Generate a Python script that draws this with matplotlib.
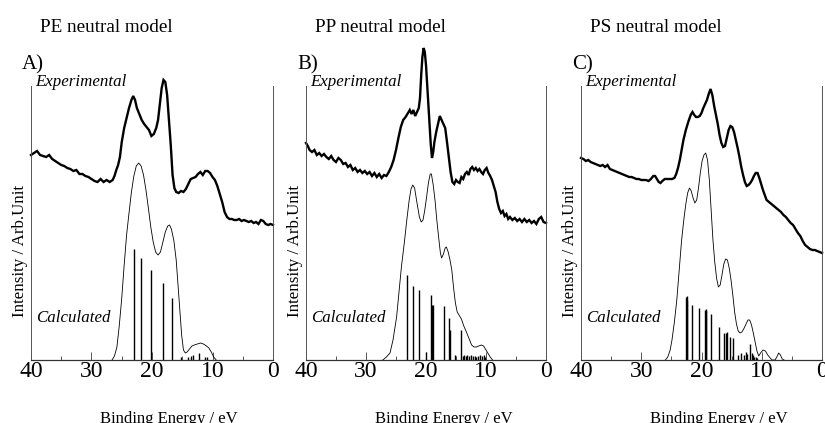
import matplotlib
matplotlib.use("Agg")
import matplotlib.pyplot as plt
from matplotlib.ticker import MultipleLocator

plt.rcParams['font.family'] = ['Liberation Serif', 'DejaVu Serif']

# ---- data (binding energy in eV, intensity in arb. units) ----
# Panel A: PE
pe_exp_x = [40.0, 39.5, 39.0, 38.5, 38.0, 37.5, 37.0, 36.5, 36.0, 35.5, 35.0, 34.5, 34.0, 33.5, 33.0,
            32.5, 32.0, 31.5, 31.0, 30.5, 30.0, 29.5, 29.0, 28.5, 28.0, 27.5, 27.0, 26.5, 26.2, 25.9,
            25.6, 25.3, 25.0, 24.6, 24.2, 23.8, 23.4, 23.1, 22.8, 22.5, 22.1, 21.7, 21.3, 20.9, 20.5,
            20.1, 19.7, 19.3, 19.0, 18.7, 18.4, 18.1, 17.8, 17.5, 17.2, 16.9, 16.6, 16.3, 16.0, 15.6,
            15.2, 14.8, 14.4, 14.0, 13.6, 13.2, 12.8, 12.4, 12.0, 11.6, 11.2, 10.8, 10.4, 10.0, 9.6,
            9.2, 8.8, 8.4, 8.0, 7.6, 7.2, 6.8, 6.4, 6.0, 5.6, 5.2, 4.8, 4.4, 4.0, 3.6, 3.2, 2.8, 2.4,
            2.0, 1.6, 1.2, 0.8, 0.4, 0.0]
pe_exp_y = [205, 207, 209, 205, 204, 203, 205, 201, 199, 197, 195, 194, 192, 191, 189,
            190, 186, 186, 184, 183, 181, 179, 178, 181, 178, 180, 178, 180, 184, 190,
            195, 203, 218, 232, 242, 252, 260, 264, 260, 252, 246, 240, 236, 233, 230,
            224, 226, 232, 240, 256, 272, 280, 278, 265, 240, 215, 185, 172, 168, 167,
            169, 168, 171, 176, 181, 182, 183, 186, 188, 185, 189, 189, 187, 183, 180,
            174, 166, 158, 148, 143, 141, 141, 140, 140, 141, 139, 140, 139, 138, 139, 137, 138, 136,
            140, 139, 136, 135, 136, 135]
pe_calc_x = [26.6, 26.2, 25.8, 25.4, 25.0, 24.6, 24.2, 23.8, 23.4, 23.0, 22.6, 22.2, 21.8, 21.4, 21.0,
             20.6, 20.2, 19.8, 19.4, 19.0, 18.6, 18.2, 17.8, 17.4, 17.1, 16.8, 16.4, 16.0, 15.7, 15.4,
             15.1, 14.8, 14.5, 14.2, 13.8, 13.4, 13.0, 12.5, 12.0, 11.5, 11.0, 10.6, 10.2, 9.8, 9.4]
pe_calc_y = [0, 4, 13, 35, 62, 95, 125, 147, 168, 184, 194, 197, 194, 185, 170,
             152, 133, 118, 108, 105, 108, 118, 128, 134, 135, 131, 120, 100, 75, 50,
             25, 10, 7, 8, 11, 14, 15, 16, 17, 16, 14, 12, 8, 3, 0]
pe_stick_x = [23.0, 21.9, 20.2, 18.2, 16.7, 15.2, 14.0, 13.6, 13.3, 12.3, 11.2, 10.9]
pe_stick_y = [111, 102, 90, 77, 62, 3, 3, 4, 5, 7, 3, 3]

# Panel B: PP
pp_exp_x = [40.0, 39.7, 39.4, 39.0, 38.6, 38.2, 37.8, 37.4, 37.0, 36.6, 36.2, 35.8, 35.4, 35.0, 34.6,
            34.2, 33.8, 33.4, 33.0, 32.6, 32.2, 31.8, 31.4, 31.0, 30.6, 30.2, 29.8, 29.4, 29.0, 28.6,
            28.2, 27.8, 27.4, 27.0, 26.6, 26.2, 25.8, 25.4, 25.0, 24.6, 24.2, 23.8, 23.4, 23.0, 22.7,
            22.4, 22.1, 21.8, 21.5, 21.2, 21.0, 20.8, 20.6, 20.4, 20.2, 20.0, 19.8, 19.6, 19.4, 19.2,
            19.0, 18.8, 18.6, 18.3, 18.0, 17.7, 17.4, 17.1, 16.8, 16.5, 16.2, 15.9, 15.6, 15.3, 15.0,
            14.7, 14.4, 14.1, 13.8, 13.5, 13.2, 12.9, 12.6, 12.3, 12.0, 11.7, 11.4, 11.1, 10.8, 10.5,
            10.2, 9.9, 9.6, 9.3, 9.0, 8.7, 8.4, 8.1, 7.8, 7.5, 7.2, 6.9, 6.6, 6.3, 6.0, 5.6, 5.2, 4.8,
            4.4, 4.0, 3.6, 3.2, 2.8, 2.4, 2.0, 1.6, 1.2, 0.8, 0.4, 0.0]
pp_exp_y = [217, 214, 210, 208, 210, 205, 207, 204, 206, 203, 201, 204, 200, 198, 202,
            200, 196, 197, 193, 195, 190, 192, 188, 190, 187, 189, 186, 188, 184, 187,
            183, 186, 182, 185, 184, 188, 193, 200, 210, 222, 233, 240, 243, 247, 250,
            246, 250, 244, 248, 252, 262, 285, 303, 312, 308, 295, 275, 255, 235, 215,
            202, 208, 218, 228, 236, 244, 240, 236, 232, 218, 203, 188, 178, 176, 180,
            178, 177, 183, 181, 186, 188, 185, 191, 193, 190, 192, 189, 191, 188, 186,
            190, 192, 187, 184, 180, 174, 168, 158, 151, 147, 149, 144, 146, 141, 143, 140, 142, 139,
            141, 138, 141, 138, 140, 137, 139, 136, 141, 143, 138, 137]
pp_calc_x = [27.2, 26.6, 26.0, 25.5, 24.9, 24.5, 24.1, 23.6, 23.2, 22.8, 22.5, 22.2, 21.9, 21.5, 21.1,
             20.8, 20.5, 20.2, 19.9, 19.6, 19.3, 19.1, 18.8, 18.5, 18.2, 17.9, 17.6, 17.4, 17.1, 16.8,
             16.6, 16.3, 16.0, 15.7, 15.4, 15.1, 14.8, 14.4, 14.1, 13.7, 13.2, 12.8, 12.4, 12.0, 11.6,
             11.2, 10.8, 10.4, 10.0, 9.6, 9.3, 8.9]
pp_calc_y = [0, 3, 7, 20, 43, 68, 93, 118, 140, 160, 171, 175, 172, 157, 143,
             138, 140, 150, 163, 177, 186, 186, 175, 160, 140, 123, 107, 102, 106, 112,
             113, 108, 100, 90, 72, 57, 48, 44, 41, 34, 27, 21, 15, 13, 13,
             14, 15, 14, 10, 6, 3, 0]
pp_stick_x = [23.2, 22.2, 21.2, 20.0, 19.2, 19.0, 18.9, 17.0, 16.2, 16.0, 15.2, 14.2,
              13.8, 13.6, 13.4, 13.1, 12.8, 12.5, 12.2, 11.9, 11.6, 11.3, 11.0, 10.7, 10.4, 10.1]
pp_stick_y = [85, 74, 70, 8, 65, 55, 55, 54, 42, 30, 5, 30,
              4, 5, 4, 5, 4, 5, 4, 4, 3, 4, 5, 4, 5, 3]

# Panel C: PS
ps_exp_x = [40.0, 39.6, 39.2, 38.8, 38.4, 38.0, 37.6, 37.2, 36.8, 36.4, 36.0, 35.6, 35.2, 34.8, 34.4,
            34.0, 33.6, 33.2, 32.8, 32.4, 32.0, 31.6, 31.2, 30.8, 30.4, 30.0, 29.6, 29.2, 28.8, 28.4,
            28.0, 27.7, 27.4, 27.1, 26.8, 26.5, 26.1, 25.7, 25.3, 24.9, 24.5, 24.2, 23.9, 23.6, 23.3,
            23.0, 22.6, 22.2, 21.8, 21.5, 21.2, 20.9, 20.6, 20.3, 20.0, 19.7, 19.4, 19.1, 18.8, 18.5,
            18.2, 17.9, 17.6, 17.3, 17.0, 16.7, 16.4, 16.1, 15.8, 15.5, 15.2, 14.9, 14.6, 14.3, 14.0,
            13.7, 13.4, 13.1, 12.8, 12.5, 12.2, 11.9, 11.6, 11.3, 11.0, 10.7, 10.4, 10.1, 9.8, 9.5,
            9.2, 8.8, 8.4, 8.0, 7.6, 7.2, 6.8, 6.4, 6.0, 5.6, 5.2, 4.8, 4.4, 4.0, 3.6, 3.2, 2.8, 2.4,
            2.0, 1.6, 1.2, 0.8, 0.4, 0.0]
ps_exp_y = [202, 201, 199, 200, 198, 197, 196, 195, 194, 195, 193, 195, 191, 190, 189,
            188, 187, 186, 185, 184, 183, 183, 182, 181, 181, 180, 180, 180, 179, 181,
            184, 184, 181, 178, 177, 179, 181, 181, 181, 181, 182, 186, 192, 200, 210,
            220, 230, 238, 245, 248, 245, 243, 243, 244, 247, 252, 256, 260, 266, 271,
            265, 254, 245, 236, 225, 217, 213, 214, 222, 230, 234, 233, 228, 220, 212,
            203, 193, 185, 178, 174, 175, 177, 180, 184, 187, 187, 182, 176, 170, 165,
            160, 158, 156, 154, 152, 150, 148, 145, 143, 140, 137, 135, 131, 127, 124, 119, 115, 113,
            111, 110, 110, 109, 108, 107]
ps_calc_x = [26.0, 25.6, 25.2, 24.9, 24.5, 24.1, 23.7, 23.3, 22.9, 22.6, 22.3, 22.0, 21.7, 21.4, 21.1,
             20.8, 20.5, 20.2, 19.9, 19.6, 19.3, 19.0, 18.7, 18.4, 18.1, 17.8, 17.5, 17.2, 16.9, 16.6,
             16.3, 16.0, 15.7, 15.4, 15.1, 14.8, 14.5, 14.2, 13.9, 13.6, 13.3, 13.0, 12.6, 12.3, 12.0,
             11.7, 11.4, 11.1, 10.8, 10.5, 10.2, 9.8, 9.4, 9.0, 8.6, 8.3, 7.8, 7.5, 7.2, 6.9, 6.6, 6.3]
ps_calc_y = [0, 3, 10, 20, 38, 60, 90, 120, 142, 156, 167, 172, 169, 162, 157,
             160, 172, 187, 199, 205, 207, 200, 180, 150, 120, 98, 82, 73, 75, 85,
             96, 101, 100, 92, 80, 65, 48, 36, 29, 27, 28, 31, 36, 40, 40,
             35, 27, 18, 9, 4, 7, 10, 9, 5, 2, 0, 0, 3, 7, 5, 1, 0]
ps_stick_x = [22.6, 22.45, 22.35, 21.5, 20.4, 19.5, 19.3, 19.2, 18.5, 17.1, 16.3, 16.0, 15.8, 15.3,
              14.7, 13.9, 13.5, 12.9, 12.6, 12.4, 11.9, 11.7, 11.5, 11.3, 11.0, 10.8]
ps_stick_y = [63, 64, 60, 55, 52, 50, 51, 49, 46, 33, 27, 27, 28, 23,
              22, 5, 7, 5, 8, 6, 16, 7, 5, 3, 3, 2]

titles = ["PE neutral model", "PP neutral model", "PS neutral model"]
letters = ["A)", "B)", "C)"]
x_ticks = [40, 30, 20, 10, 0]

W, H = 825, 423
fig = plt.figure(figsize=(W / 100, H / 100), dpi=100)


def fx(px):
    return px / W


def fy(py):
    return 1 - py / H


panels = [
    (31, 242, pe_exp_x, pe_exp_y, pe_calc_x, pe_calc_y, pe_stick_x, pe_stick_y),
    (306, 240, pp_exp_x, pp_exp_y, pp_calc_x, pp_calc_y, pp_stick_x, pp_stick_y),
    (581, 241, ps_exp_x, ps_exp_y, ps_calc_x, ps_calc_y, ps_stick_x, ps_stick_y),
]

for i, (left, width, ex, ey, cx, cy, sx, sy) in enumerate(panels):
    ax = fig.add_axes([fx(left), fy(360), width / W, 320 / H])

    # experimental spectrum (thick), calculated envelope (thin), stick spectrum
    ax.plot(ex, ey, color='black', lw=1.7, solid_joinstyle='miter', clip_on=False)
    ax.plot(cx, cy, color='black', lw=0.6)
    ax.vlines(sx, 0, sy, color='black', lw=1.0)

    ax.set_xlim(40, 0)
    ax.set_ylim(0, 320)

    ax.spines['top'].set_visible(False)
    for side in ['left', 'right']:
        ax.spines[side].set_bounds(0, 274)
        ax.spines[side].set_color('#555555')
        ax.spines[side].set_linewidth(0.7)
    ax.spines['bottom'].set_color('#333333')
    ax.spines['bottom'].set_linewidth(0.9)

    ax.set_yticks([])
    ax.set_xticks(x_ticks)
    ax.xaxis.set_minor_locator(MultipleLocator(5))
    ax.tick_params(axis='x', which='major', direction='in', length=5.5, width=0.7,
                   color='#555555', labelsize=17, pad=1)
    ax.tick_params(axis='x', which='minor', direction='in', length=2.6, width=0.7,
                   color='#555555')

    # text around the panel
    fig.text(fx(left + 9), fy(32), titles[i], fontsize=13.8, ha='left', va='baseline')
    fig.text(fx(left - 9), fy(69), letters[i], fontsize=15, ha='left', va='baseline')
    fig.text(fx(left + 4), fy(86), "Experimental", fontsize=12.2, style='italic',
             ha='left', va='baseline')
    fig.text(fx(left + 5), fy(322), "Calculated", fontsize=12.2, style='italic',
             ha='left', va='baseline')
    fig.text(fx(left - 11), fy(251), "Intensity / Arb.Unit", fontsize=12.2, rotation=90,
             ha='center', va='center')
    fig.text(fx(left + 69), fy(423), "Binding Energy / eV", fontsize=12,
             ha='left', va='baseline')

fig.savefig("out.png", dpi=100)
